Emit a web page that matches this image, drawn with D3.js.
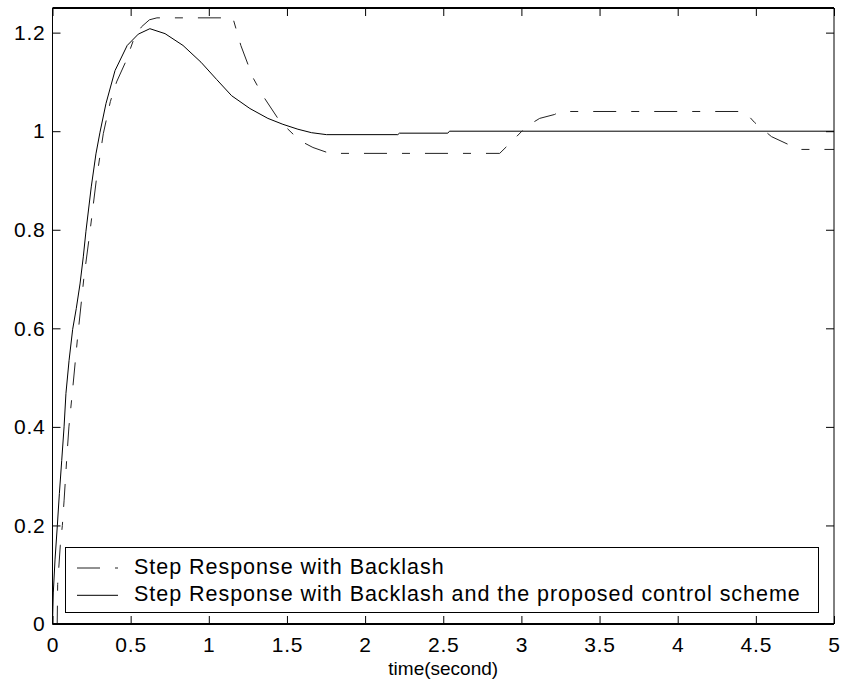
<!DOCTYPE html>
<html>
<head>
<meta charset="utf-8">
<script src="https://cdn.jsdelivr.net/npm/d3@7"></script>
<style>
  body { margin: 0; background: #fff; }
  svg { display: block; font-family: "Liberation Sans", Arial, sans-serif; }
</style>
</head>
<body>
<div id="chart"></div>
<script>
// step response data: [time, output]
const backlash = [
	[0, 0], [0.03, 0], [0.033, 0.08], [0.05, 0.16], [0.063, 0.2], [0.074, 0.25],
	[0.09, 0.33], [0.105, 0.4], [0.127, 0.47], [0.16, 0.58], [0.2, 0.7], [0.24, 0.797],
	[0.28, 0.9], [0.325, 0.995], [0.37, 1.06], [0.41, 1.1], [0.467, 1.14], [0.524, 1.19],
	[0.57, 1.212], [0.62, 1.226], [0.668, 1.23], [1.154, 1.23], [1.205, 1.174],
	[1.282, 1.109], [1.346, 1.072], [1.442, 1.026], [1.474, 1.014], [1.582, 0.981],
	[1.666, 0.967], [1.774, 0.955], [2.861, 0.955], [2.938, 0.979], [3.034, 1.01],
	[3.117, 1.026], [3.213, 1.034], [3.245, 1.04], [4.428, 1.04], [4.491, 1.018],
	[4.6, 0.989], [4.722, 0.971], [4.78, 0.963], [5, 0.963]
];
const controlled = [
	[0, 0], [0.005, 0.063], [0.016, 0.13], [0.031, 0.2], [0.044, 0.265], [0.059, 0.332],
	[0.074, 0.4], [0.086, 0.468], [0.106, 0.535], [0.129, 0.598], [0.152, 0.64],
	[0.176, 0.69], [0.197, 0.745], [0.214, 0.797], [0.248, 0.887], [0.278, 0.954],
	[0.304, 0.998], [0.342, 1.056], [0.4, 1.123], [0.478, 1.174], [0.549, 1.197],
	[0.623, 1.208], [0.72, 1.198], [0.835, 1.174], [0.95, 1.14], [1.05, 1.105],
	[1.146, 1.072], [1.263, 1.046], [1.378, 1.026], [1.474, 1.014], [1.57, 1.004],
	[1.657, 0.997], [1.753, 0.993], [2.209, 0.993], [2.22, 0.996], [2.529, 0.996],
	[2.54, 1.0], [5, 1.0]
];
const xTicks = [0, 0.5, 1, 1.5, 2, 2.5, 3, 3.5, 4, 4.5, 5];
const yTicks = [0, 0.2, 0.4, 0.6, 0.8, 1, 1.2];
const legendLabels = [
	"Step Response with Backlash",
	"Step Response with Backlash and the proposed control scheme"
];
const xLabel = "time(second)";

const width = 847;
const height = 690;
const margin = { top: 8, right: 13, bottom: 66, left: 52.5 };

const svg = d3.select("#chart").append("svg")
	.attr("width", width)
	.attr("height", height);

const x = d3.scaleLinear()
	.domain([0, 5])
	.range([margin.left, width - margin.right]);

const y = d3.scaleLinear()
	.domain([0, 1.25])
	.range([height - margin.bottom, margin.top]);

// tick marks point inward on all four sides, labels only bottom/left
function styleAxis(g) {
	g.select(".domain").remove();
	g.selectAll(".tick line").attr("stroke", "#000");
	g.selectAll(".tick text")
		.attr("fill", "#000")
		.style("font-size", "21px")
		.style("letter-spacing", "0.8px")
		.style("font-family", "'Liberation Sans', Arial, sans-serif");
}

svg.append("g")
	.attr("transform", `translate(0,${y(0)})`)
	.call(d3.axisBottom(x).tickValues(xTicks).tickFormat(d3.format("")).tickSizeInner(-8).tickPadding(13))
	.call(styleAxis);

svg.append("g")
	.attr("transform", `translate(0,${y(1.25)})`)
	.call(d3.axisTop(x).tickValues(xTicks).tickFormat("").tickSizeInner(-8))
	.call(styleAxis);

svg.append("g")
	.attr("transform", `translate(${x(0)},0)`)
	.call(d3.axisLeft(y).tickValues(yTicks).tickFormat(d3.format("")).tickSizeInner(-8).tickPadding(7))
	.call(styleAxis);

svg.append("g")
	.attr("transform", `translate(${x(5)},0)`)
	.call(d3.axisRight(y).tickValues(yTicks).tickFormat("").tickSizeInner(-8))
	.call(styleAxis);

svg.append("defs").append("clipPath")
	.attr("id", "plot-clip")
	.append("rect")
	.attr("x", x(0))
	.attr("y", y(1.25))
	.attr("width", x(5) - x(0))
	.attr("height", y(0) - y(1.25));

const line = d3.line()
	.x(d => x(d[0]))
	.y(d => y(d[1]));

const plot = svg.append("g").attr("clip-path", "url(#plot-clip)");

plot.append("path")
	.datum(controlled)
	.attr("fill", "none")
	.attr("stroke", "#000")
	.attr("stroke-width", 1)
	.attr("d", line);

plot.append("path")
	.datum(backlash)
	.attr("fill", "none")
	.attr("stroke", "#222")
	.attr("stroke-width", 1)
	.attr("stroke-dasharray", "23,15,8,15")
	.attr("d", line);

// frame
svg.append("line")
	.attr("x1", x(0)).attr("x2", x(5))
	.attr("y1", y(0)).attr("y2", y(0))
	.attr("stroke", "#000").attr("stroke-width", 2);
svg.append("line")
	.attr("x1", x(0)).attr("x2", x(5))
	.attr("y1", y(1.25)).attr("y2", y(1.25))
	.attr("stroke", "#000").attr("stroke-width", 2);
svg.append("line")
	.attr("x1", x(0)).attr("x2", x(0))
	.attr("y1", y(0)).attr("y2", y(1.25))
	.attr("stroke", "#000").attr("stroke-width", 1);
svg.append("line")
	.attr("x1", x(5)).attr("x2", x(5))
	.attr("y1", y(0)).attr("y2", y(1.25))
	.attr("stroke", "#000").attr("stroke-width", 1);

// legend
const legend = svg.append("g");
legend.append("rect")
	.attr("x", 65.5).attr("y", 547.5)
	.attr("width", 753).attr("height", 65)
	.attr("fill", "#fff")
	.attr("stroke", "#000")
	.attr("stroke-width", 1);

const legendRows = legend.selectAll("g.row")
	.data(legendLabels)
	.join("g")
	.attr("class", "row")
	.attr("transform", (d, i) => `translate(0,${568 + i * 27.3})`);

legendRows.append("line")
	.attr("x1", 77).attr("x2", 118)
	.attr("y1", 0).attr("y2", 0)
	.attr("stroke", (d, i) => i === 0 ? "#222" : "#000")
	.attr("stroke-width", 1)
	.attr("stroke-dasharray", (d, i) => i === 0 ? "23,15,3,15" : null);

legendRows.append("text")
	.attr("x", 134)
	.attr("y", 5.5)
	.style("font-size", "21.5px")
	.style("letter-spacing", "0.97px")
	.text(d => d);

svg.append("text")
	.attr("x", (x(0) + x(5)) / 2)
	.attr("y", 675)
	.attr("text-anchor", "middle")
	.style("font-size", "19px")
	.text(xLabel);
</script>
</body>
</html>
